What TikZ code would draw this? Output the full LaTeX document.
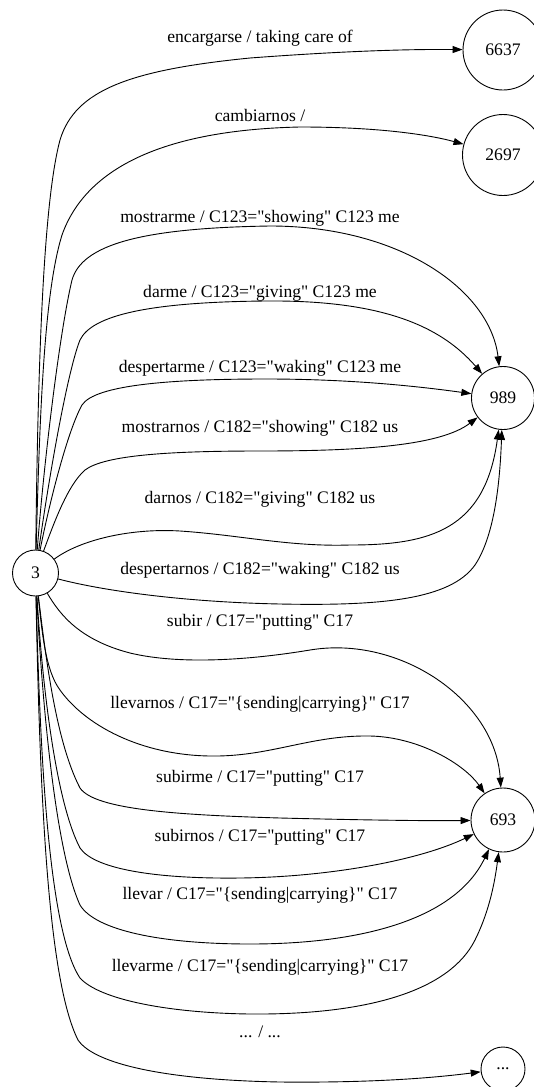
\documentclass[tikz,border=0pt]{standalone}
\usepackage{fontspec}
\setmainfont{Liberation Serif}
\usetikzlibrary{arrows.meta}
\newcommand{\dq}{\textquotedbl}
\begin{document}
\begin{tikzpicture}[x=1pt,y=-1pt,
  state/.style={draw, circle, line width=0.9pt, inner sep=0pt, font=\fontsize{17.6}{20}\selectfont},
  lbl/.style={anchor=base, inner sep=0pt, font=\fontsize{17.6}{20}\selectfont},
  arr/.style={draw, line width=0.9pt, -{Triangle[length=10pt,width=7pt]}}]
\useasboundingbox (0,0) rectangle (534,1087);
% nodes
\node[state, minimum size=46pt] (n3) at (35.5,573) {3};
\node[state, minimum size=80pt] (n6637) at (503,50) {6637};
\node[state, minimum size=81pt] (n2697) at (503,155) {2697};
\node[state, minimum size=63pt] (n989) at (503,398) {989};
\node[state, minimum size=64pt] (n693) at (503,820) {693};
\node[state, minimum size=44pt] (ndots) at (503,1069) {...};
% labels
\node[lbl] (l1) at (260,42.5) {encargarse / taking care of};
\node[lbl] (l2) at (260,121) {cambiarnos /};
\node[lbl] (l3) at (260,222) {mostrarme / C123=\dq showing\dq{} C123 me};
\node[lbl] (l4) at (260,297.5) {darme / C123=\dq giving\dq{} C123 me};
\node[lbl] (l5) at (260,372) {despertarme / C123=\dq waking\dq{} C123 me};
\node[lbl] (l6) at (260,432) {mostrarnos / C182=\dq showing\dq{} C182 us};
\node[lbl] (l7) at (260,503.5) {darnos / C182=\dq giving\dq{} C182 us};
\node[lbl] (l8) at (260,574) {despertarnos / C182=\dq waking\dq{} C182 us};
\node[lbl] (l9) at (260,626) {subir / C17=\dq putting\dq{} C17};
\node[lbl] (l10) at (260,708) {llevarnos / C17=\dq\{sending|carrying\}\dq{} C17};
\node[lbl] (l11) at (260,782.5) {subirme / C17=\dq putting\dq{} C17};
\node[lbl] (l12) at (260,841) {subirnos / C17=\dq putting\dq{} C17};
\node[lbl] (l13) at (260,899.5) {llevar / C17=\dq\{sending|carrying\}\dq{} C17};
\node[lbl] (l14) at (260,971) {llevarme / C17=\dq\{sending|carrying\}\dq{} C17};
\node[lbl] (l15) at (260,1037) {... / ...};
% edges
\draw[arr] (n3) .. controls (38,350) and (44,200) .. (60,140) .. controls (75,90) and (130,70) .. (250,58) .. controls (330,52) and (400,49) .. (n6637);
\draw[arr] (n3) .. controls (40,400) and (45,290) .. (62,235) .. controls (85,170) and (160,130) .. (300,127) .. controls (380,127) and (430,135) .. (n2697);
\draw[arr] (n3) .. controls (44,460) and (60,330) .. (72,280) .. controls (82,245) and (140,228) .. (270,226) .. controls (400,226) and (490,290) .. (n989);
\draw[arr] (n3) .. controls (50,470) and (68,370) .. (80,340) .. controls (92,315) and (150,302) .. (266,301) .. controls (380,300) and (440,325) .. (n989);
\draw[arr] (n3) .. controls (50,500) and (68,430) .. (82,405) .. controls (95,385) and (170,379) .. (266,379) .. controls (360,379) and (430,388) .. (n989);
\draw[arr] (n3) .. controls (55,520) and (68,485) .. (85,470) .. controls (105,455) and (170,451) .. (260,451) .. controls (360,451) and (440,446) .. (n989);
\draw[arr] (n3) .. controls (80,540) and (130,528) .. (180,531) .. controls (240,535) and (290,547) .. (350,545) .. controls (430,545) and (485,530) .. (n989);
\draw[arr] (n3) .. controls (100,590) and (180,602) .. (280,604) .. controls (380,606) and (450,600) .. (475,565) .. controls (495,535) and (500,480) .. (n989);
\draw[arr] (n3) .. controls (60,615) and (80,640) .. (130,653) .. controls (180,665) and (250,660) .. (310,650) .. controls (400,635) and (495,700) .. (n693);
\draw[arr] (n3) .. controls (42,630) and (45,670) .. (60,690) .. controls (85,725) and (140,755) .. (210,756) .. controls (270,757) and (310,735) .. (370,736) .. controls (420,737) and (465,765) .. (n693);
\draw[arr] (n3) .. controls (45,650) and (55,740) .. (80,788) .. controls (95,810) and (180,815) .. (280,818) .. controls (360,820) and (430,821) .. (n693);
\draw[arr] (n3) .. controls (42,680) and (55,800) .. (80,848) .. controls (95,870) and (160,879) .. (240,878) .. controls (330,877) and (420,860) .. (n693);
\draw[arr] (n3) .. controls (42,700) and (55,850) .. (80,905) .. controls (95,930) and (160,944) .. (250,944) .. controls (360,944) and (455,920) .. (n693);
\draw[arr] (n3) .. controls (40,750) and (48,930) .. (80,978) .. controls (100,1000) and (170,1013) .. (250,1014) .. controls (370,1015) and (450,990) .. (475,940) .. controls (490,910) and (495,880) .. (n693);
\draw[arr] (n3) .. controls (40,800) and (48,980) .. (78,1040) .. controls (95,1065) and (170,1080) .. (280,1082) .. controls (380,1083) and (440,1077) .. (ndots);
\end{tikzpicture}
\end{document}
